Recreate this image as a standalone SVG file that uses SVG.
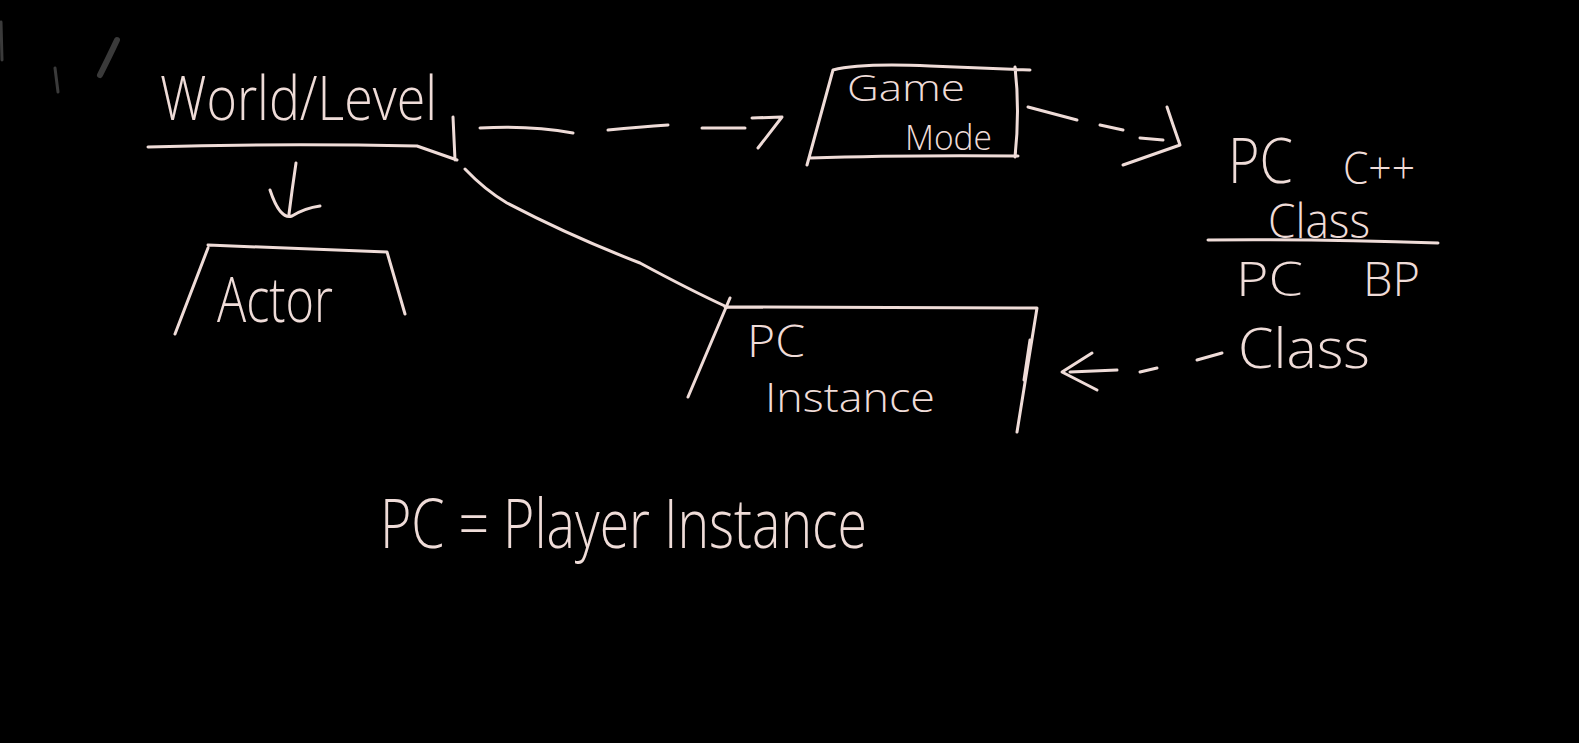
<svg xmlns="http://www.w3.org/2000/svg" width="1579" height="743" viewBox="0 0 1579 743">
<defs>
<style>
.ink{fill:none;stroke:#efdcd8;stroke-width:3;stroke-linecap:round;stroke-linejoin:round}
.lbl{fill:#efdcd8;font-family:"Open Sans","Liberation Sans",sans-serif;font-weight:300}
.smudge{fill:none;stroke:#3a3a3a;stroke-linecap:round}
</style>
</defs>
<rect width="1579" height="743" fill="#000"/>
<g id="smudges">
<path class="smudge" stroke-width="6" d="M117,40 Q110,55 100,75"/>
<path class="smudge" stroke-width="3" d="M55,68 L58,92"/>
<path class="smudge" stroke-width="3" d="M1,22 L2,60"/>
</g>
<g id="world-level">
<text class="lbl" x="160" y="120" font-size="60" textLength="277" lengthAdjust="spacingAndGlyphs">World/Level</text>
<path class="ink" d="M148,147 Q280,143 417,146 L457,160 M453,117 L455,160"/>
</g>
<g id="actor">
<path class="ink" d="M208,245 L387,252 L405,314 M208,248 L175,334"/>
<text class="lbl" x="217" y="322" font-size="62" textLength="116" lengthAdjust="spacingAndGlyphs">Actor</text>
</g>
<g id="game-mode">
<path class="ink" d="M833,70 Q860,63 930,66 L1030,70 M833,70 L807,165 M810,158 Q900,155 1018,156 M1015,67 Q1020,110 1015,157"/>
<text class="lbl" x="847" y="101" font-size="36" textLength="118" lengthAdjust="spacingAndGlyphs">Game</text>
<text class="lbl" x="905" y="150" font-size="34" textLength="87" lengthAdjust="spacingAndGlyphs">Mode</text>
</g>
<g id="pc-class">
<text class="lbl" x="1228" y="183" font-size="62" textLength="65" lengthAdjust="spacingAndGlyphs">PC</text>
<text class="lbl" x="1343" y="184" font-size="44" textLength="72" lengthAdjust="spacingAndGlyphs">C++</text>
<text class="lbl" x="1268" y="238" font-size="48" textLength="102" lengthAdjust="spacingAndGlyphs">Class</text>
<path class="ink" d="M1208,240 Q1320,239 1438,243"/>
<text class="lbl" x="1236" y="296" font-size="48" textLength="67" lengthAdjust="spacingAndGlyphs">PC</text>
<text class="lbl" x="1363" y="296" font-size="48" textLength="57" lengthAdjust="spacingAndGlyphs">BP</text>
<text class="lbl" x="1238" y="368" font-size="56" textLength="132" lengthAdjust="spacingAndGlyphs">Class</text>
</g>
<g id="pc-instance">
<path class="ink" d="M725,307 L1037,308 L1017,432 M730,298 L688,397"/>
<path class="ink" stroke-width="4.5" d="M1030,340 L1024,380"/>
<text class="lbl" x="747" y="357" font-size="44" textLength="58" lengthAdjust="spacingAndGlyphs">PC</text>
<text class="lbl" x="765" y="412" font-size="40" textLength="170" lengthAdjust="spacingAndGlyphs">Instance</text>
</g>
<g id="legend">
<text class="lbl" x="380" y="548" font-size="68" textLength="487" lengthAdjust="spacingAndGlyphs">PC = Player Instance</text>
</g>
<g id="connectors">
<path class="ink" d="M296,163 Q292,190 289,214 M270,190 Q280,220 292,216 Q305,208 320,206"/>
<path class="ink" d="M480,128 Q530,125 573,133 M608,130 Q640,127 668,125 M702,128 L745,128 M752,118 L782,117 L758,148"/>
<path class="ink" d="M1028,107 L1077,120 M1100,125 L1123,130 M1140,138 L1163,140 M1167,107 Q1173,125 1180,145 L1123,165"/>
<path class="ink" d="M465,169 Q485,190 507,203 Q570,236 640,263 Q690,290 727,307"/>
<path class="ink" d="M1092,353 L1062,372 L1097,390 M1070,372 L1117,370 M1140,372 L1157,368 M1197,360 L1222,353"/>
</g>
</svg>
